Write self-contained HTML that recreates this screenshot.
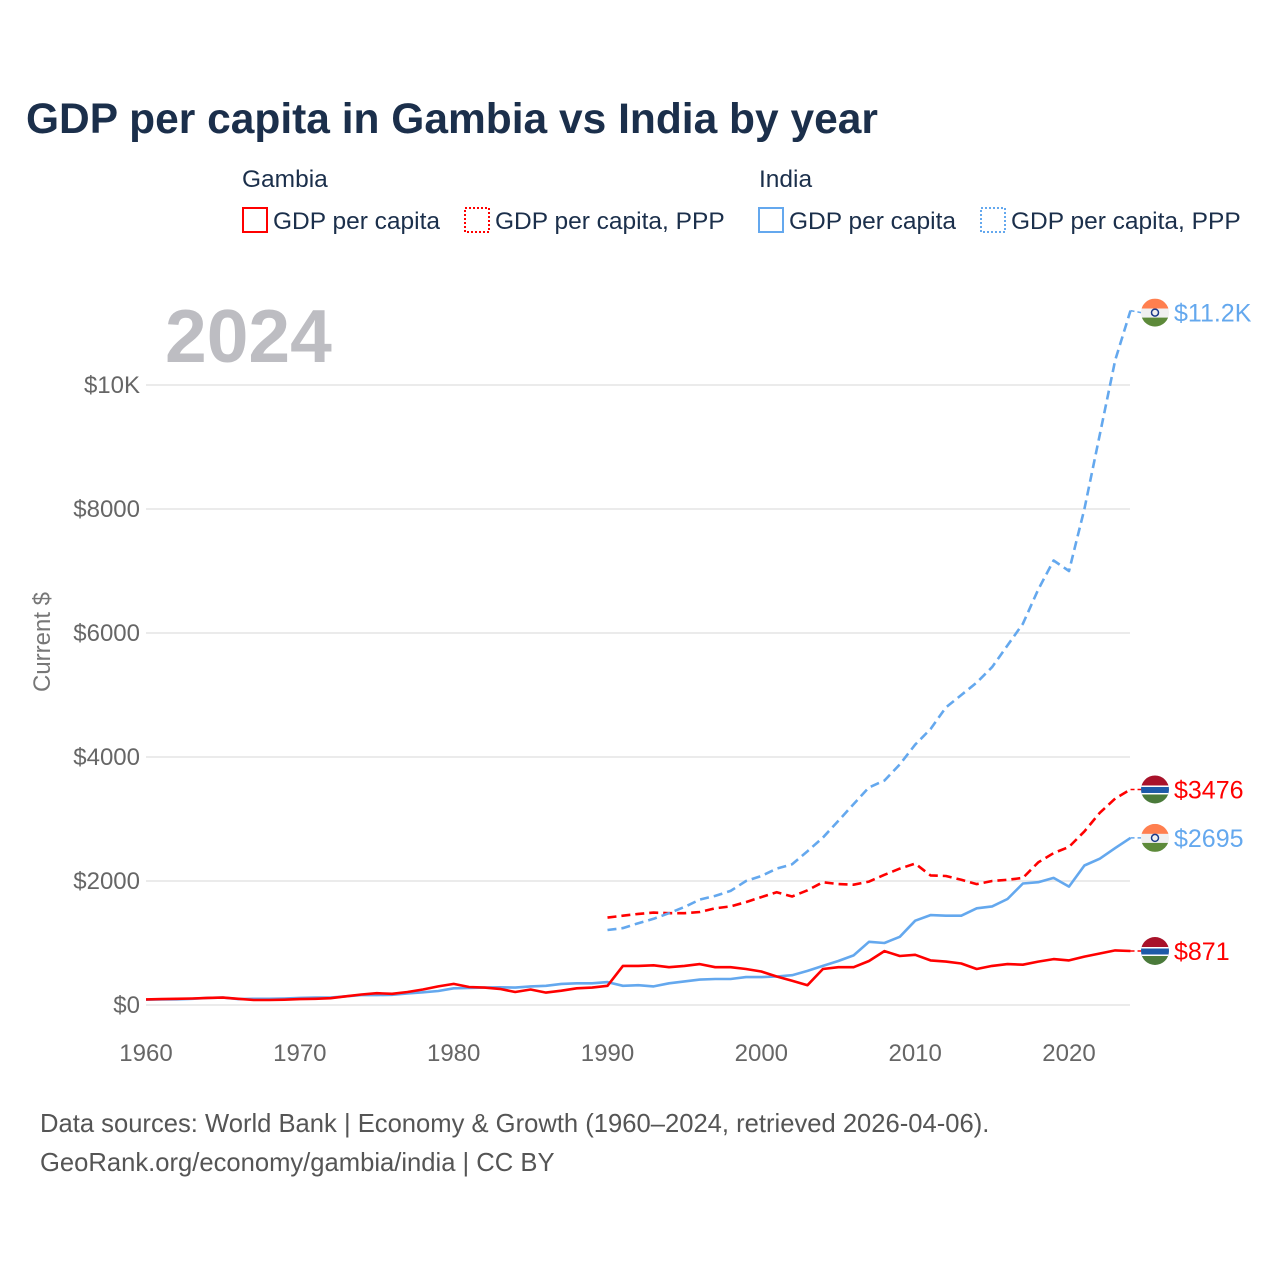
<!DOCTYPE html>
<html><head><meta charset="utf-8"><style>
body{margin:0;background:#fff;font-family:"Liberation Sans",sans-serif}
svg text{font-family:"Liberation Sans",sans-serif}
</style></head><body>
<svg id="c" width="1280" height="1280" xmlns="http://www.w3.org/2000/svg">
<text x="26" y="133" font-size="42.5" font-weight="bold" fill="#1b2f4b">GDP per capita in Gambia vs India by year</text>
<g font-size="24.5" fill="#1b2f4b">
<text x="242" y="187">Gambia</text>
<text x="759" y="187">India</text>
<rect x="243" y="208" width="24" height="24" fill="none" stroke="#f00" stroke-width="2"/>
<text x="273" y="229">GDP per capita</text>
<rect x="465" y="208" width="24" height="24" fill="none" stroke="#f00" stroke-width="2" stroke-dasharray="2,2"/>
<text x="495" y="229">GDP per capita, PPP</text>
<rect x="759" y="208" width="24" height="24" fill="none" stroke="#64a8ee" stroke-width="2"/>
<text x="789" y="229">GDP per capita</text>
<rect x="981" y="208" width="24" height="24" fill="none" stroke="#64a8ee" stroke-width="2" stroke-dasharray="2,2"/>
<text x="1011" y="229">GDP per capita, PPP</text>
</g>
<text x="165" y="362" font-size="75" font-weight="bold" fill="#bdbdc2">2024</text>
<text transform="translate(50,642) rotate(-90)" text-anchor="middle" font-size="24" fill="#777">Current $</text>
<g id="grid"></g><g id="marks"></g>
<text x="40" y="1132" font-size="25.6" fill="#555">Data sources: World Bank | Economy &amp; Growth (1960–2024, retrieved 2026-04-06).</text>
<text x="40" y="1171" font-size="25.6" fill="#555">GeoRank.org/economy/gambia/india | CC BY</text>
</svg>
<script>
const yearsStart = 1960;
const gambiaGdp = [90,95,100,105,115,120,100,80,80,85,95,100,110,140,170,190,180,210,250,300,340,290,280,260,210,250,200,230,270,280,310,630,630,640,610,630,660,610,610,580,540,460,390,320,580,610,610,710,870,790,810,720,700,670,580,630,660,650,700,740,720,780,830,880,871];
const indiaGdp = [85,90,92,100,115,120,95,100,100,105,115,120,120,140,160,160,165,185,205,225,270,275,280,285,280,300,310,340,350,350,370,310,320,300,350,380,410,420,420,450,450,460,480,550,630,710,800,1020,1000,1100,1360,1450,1440,1440,1560,1590,1710,1960,1980,2050,1910,2250,2360,2530,2695];
const pppStart = 1990;
const gambiaPpp = [1410,1440,1470,1490,1480,1480,1500,1560,1590,1660,1740,1820,1750,1850,1980,1950,1940,1990,2100,2200,2280,2090,2080,2020,1950,2000,2020,2050,2300,2450,2550,2800,3100,3330,3476];
const indiaPpp = [1210,1240,1320,1390,1480,1580,1700,1760,1840,2000,2080,2200,2270,2480,2700,2970,3240,3510,3620,3880,4200,4450,4800,5000,5200,5450,5800,6150,6700,7170,7000,8000,9200,10400,11200];
const yTicks = [0,2000,4000,6000,8000,10000];
const yTickLabels = ["$0","$2000","$4000","$6000","$8000","$10K"];
const xTicks = [1960,1970,1980,1990,2000,2010,2020];
const endLabels = ["$871","$3476","$2695","$11.2K"];

const NS="http://www.w3.org/2000/svg";
const X=y=>146+(y-1960)*(1069-146)/60;
const Y=v=>1005-v*0.062;
function mk(t,a,p){const e=document.createElementNS(NS,t);for(const k in a)e.setAttribute(k,a[k]);p.appendChild(e);return e;}
const grid=document.getElementById('grid'),marks=document.getElementById('marks');
yTicks.forEach((v,i)=>{
 const l=mk('line',{x1:146,x2:1130,y1:Y(v),y2:Y(v),stroke:'#ebebeb','stroke-width':2},grid);
 
 
 const t=mk('text',{x:140,y:Y(v)+8,'text-anchor':'end','font-size':24,fill:'#666'},grid);
 t.textContent=yTickLabels[i];
 
 
});
xTicks.forEach(y=>{
 const t=mk('text',{x:X(y),y:1061,'text-anchor':'middle','font-size':24,fill:'#666'},grid);
 t.textContent=y;
 
 
});
function line(arr,start,color,dash,name){
 const d=arr.map((v,i)=>(i?'L':'M')+X(start+i).toFixed(1)+','+Y(v).toFixed(1)).join('');
 const p=mk('path',{d:d,fill:'none',stroke:color,'stroke-width':2.6,'stroke-linejoin':'round'},marks);
 if(dash)p.setAttribute('stroke-dasharray','9,5');
 
 
}
line(indiaGdp,yearsStart,'#64a8ee',false,'india-gdp-line');
line(gambiaGdp,yearsStart,'#f00',false,'gambia-gdp-line');
line(gambiaPpp,pppStart,'#f00',true,'gambia-ppp-line');
line(indiaPpp,pppStart,'#64a8ee',true,'india-ppp-line');
function flag(cx,cy,country){
 const g=mk('g',{},marks);
 
 
 const cid='cl'+Math.round(cy);
 const cp=mk('clipPath',{id:cid},g);mk('circle',{cx:cx,cy:cy,r:14},cp);
 const gg=mk('g',{'clip-path':'url(#'+cid+')'},g);
 if(country==='india'){
  mk('rect',{x:cx-14,y:cy-14,width:28,height:10,fill:'#ff7f4f'},gg);
  mk('rect',{x:cx-14,y:cy-4,width:28,height:9,fill:'#f0f0f0'},gg);
  mk('rect',{x:cx-14,y:cy+5,width:28,height:9,fill:'#5d8a3a'},gg);
  mk('circle',{cx:cx,cy:cy,r:3.5,fill:'none',stroke:'#1a3a8a','stroke-width':1.5},gg);
 }else{
  mk('rect',{x:cx-14,y:cy-14,width:28,height:10,fill:'#a8122a'},gg);
  mk('rect',{x:cx-14,y:cy-4,width:28,height:9,fill:'#1d5aa8'},gg);
  mk('rect',{x:cx-14,y:cy-4,width:28,height:1.5,fill:'#fff'},gg);
  mk('rect',{x:cx-14,y:cy+3.5,width:28,height:1.5,fill:'#fff'},gg);
  mk('rect',{x:cx-14,y:cy+5,width:28,height:9,fill:'#4a7a3a'},gg);
 }
}
const ends=[[gambiaGdp,'#f00','gambia'],[gambiaPpp,'#f00','gambia'],[indiaGdp,'#64a8ee','india'],[indiaPpp,'#64a8ee','india']];
ends.forEach((e,i)=>{
 const v=e[0][e[0].length-1],cy=Y(v)+(i==3?2:0);
 const l=mk('line',{x1:X(2024),x2:1141,y1:Y(v),y2:cy,stroke:e[1],'stroke-width':1.5,'stroke-dasharray':'4,3'},marks);
 
 
 flag(1155,cy,e[2]);
 const t=mk('text',{x:1174,y:cy+9,'font-size':25,fill:e[1]},marks);
 t.textContent=endLabels[i];
 
 
});
</script>
</body></html>
